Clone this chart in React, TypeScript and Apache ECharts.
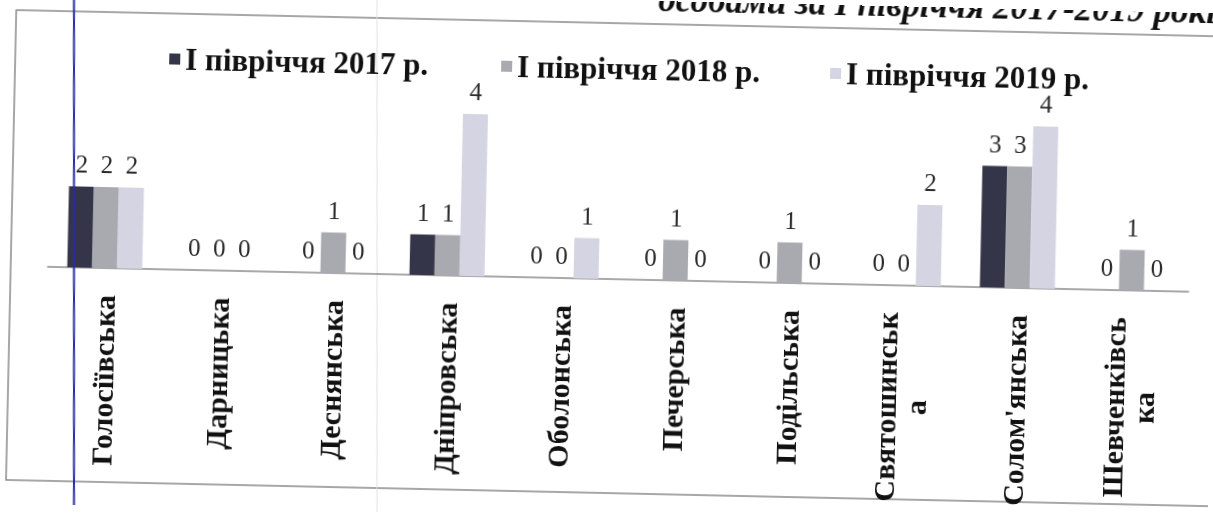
import React, { useEffect, useRef } from "react";
import * as echarts from "echarts";

const categories = [
  "Голосіївська",
  "Дарницька",
  "Деснянська",
  "Дніпровська",
  "Оболонська",
  "Печерська",
  "Подільська",
  "Святошинськ\nа",
  "Солом'янська",
  "Шевченківсь\nка",
];
const seriesNames = ["І півріччя 2017 р.", "І півріччя 2018 р.", "І півріччя 2019 р."];
const values2017 = [2, 0, 0, 1, 0, 0, 0, 0, 3, 0];
const values2018 = [2, 0, 1, 1, 0, 1, 1, 0, 3, 1];
const values2019 = [2, 0, 0, 4, 1, 0, 0, 2, 4, 0];
const titleText = "особами за І півріччя 2017-2019 років";

const W = 1213;
const H = 517;
const CX = W / 2;
const CY = H / 2;
const DEG = 1.25;

function unrot(x: number, y: number): [number, number] {
  const t = (DEG * Math.PI) / 180;
  const c = Math.cos(t);
  const s = Math.sin(t);
  const dx = x - CX;
  const dy = y - CY;
  return [CX + dx * c + dy * s, CY - dx * s + dy * c];
}

export default function App() {
  const ref = useRef<HTMLDivElement>(null);
  useEffect(() => {
    if (!ref.current) return;
    const chart = echarts.init(ref.current, undefined, { renderer: "svg" });
    const serif = "'Liberation Serif', 'Times New Roman', serif";
    const colors = ["#35354a", "#a9a9b0", "#d4d4e3"];
    const values = [values2017, values2018, values2019];
    const legendLeft = [160, 492, 821];
    const [b1x, b1y] = unrot(74, -30);
    const [b2x, b2y] = unrot(74, H + 30);
    const [g1x, g1y] = unrot(377, -30);
    const [g2x, g2y] = unrot(377, H + 30);

    chart.setOption({
      animation: false,
      backgroundColor: "#ffffff",
      grid: { left: 48, right: 24, top: 76.5, bottom: 238, containLabel: false },
      legend: seriesNames.map((n, i) => ({
        data: [n],
        left: legendLeft[i],
        top: 48,
        icon: "rect",
        itemWidth: 11,
        itemHeight: 11,
        itemGap: 0,
        selectedMode: false,
        textStyle: { fontFamily: serif, fontSize: 31, fontWeight: "bold", color: "#111" },
      })),
      xAxis: {
        type: "category",
        data: categories,
        axisLine: { lineStyle: { color: "#8c8c8c", width: 1.5 } },
        axisTick: { show: false },
        axisLabel: {
          interval: 0,
          rotate: 90,
          margin: 27,
          formatter: (v: string) =>
            v
              .split("\n")
              .map((l) => `{c|${l}}`)
              .join("\n"),
          rich: {
            c: {
              align: "center",
              fontFamily: serif,
              fontSize: 30,
              fontWeight: "bold",
              color: "#111",
              lineHeight: 30,
            },
          },
        },
      },
      yAxis: { type: "value", min: 0, max: 5, show: false, splitLine: { show: false } },
      series: seriesNames.map((n, i) => ({
        name: n,
        type: "bar",
        data: values[i],
        barWidth: 25,
        barGap: "0%",
        itemStyle: { color: colors[i] },
        label: {
          show: true,
          position: "top",
          distance: 10,
          fontFamily: serif,
          fontSize: 25,
          color: "#2a2a2a",
        },
      })),
      graphic: [
        {
          type: "rect",
          silent: true,
          z: -10,
          shape: { x: 11, y: 23, width: 1260, height: 470 },
          style: { fill: "none", stroke: "#8a8a8a", lineWidth: 1.5 },
        },
        {
          type: "line",
          silent: true,
          z: -9,
          shape: { x1: g1x, y1: g1y, x2: g2x, y2: g2y },
          style: { stroke: "#e2e2e2", lineWidth: 1 },
        },
        {
          type: "text",
          silent: true,
          style: {
            text: titleText,
            x: 1226,
            y: 16,
            align: "right",
            verticalAlign: "bottom",
            font: `italic bold 35px ${serif}`,
            fill: "#111",
          },
        },
        {
          type: "line",
          silent: true,
          z: 100,
          shape: { x1: b1x, y1: b1y, x2: b2x, y2: b2y },
          style: { stroke: "#2a2aa8", lineWidth: 2 },
        },
      ],
    });
    return () => chart.dispose();
  }, []);

  return (
    <div
      ref={ref}
      style={{
        position: "fixed",
        left: 0,
        top: 0,
        width: W,
        height: H,
        transform: `rotate(${DEG}deg)`,
        transformOrigin: `${CX}px ${CY}px`,
      }}
    />
  );
}
